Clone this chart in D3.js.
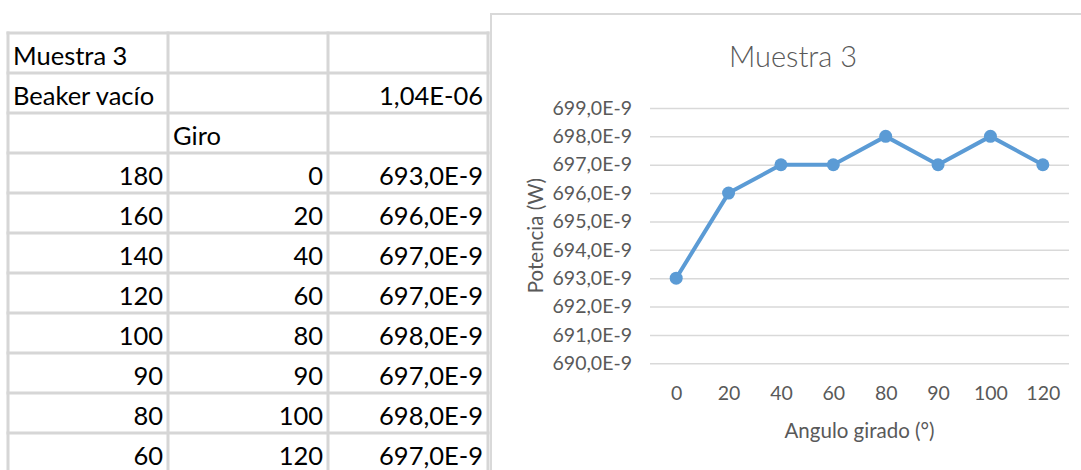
<!DOCTYPE html>
<html>
<head>
<meta charset="utf-8">
<script src="https://cdn.jsdelivr.net/npm/d3@7/dist/d3.min.js"></script>
<style>
  html, body { margin: 0; padding: 0; background: #fff; }
  svg { display: block; }
  text { font-family: Lato, "Open Sans", "Noto Sans", sans-serif; }
</style>
</head>
<body>
<svg id="sheet" width="1081" height="470"></svg>
<script>
// Sheet data: sample 3, power measured as the polarizer is rotated
const titulo = "Muestra 3";
const beakerLabel = "Beaker vacío";
const beakerVacio = 1.04e-6;
const giroHeader = "Giro";
const anguloPolarizador = [180, 160, 140, 120, 100, 90, 80, 60];
const giro = [0, 20, 40, 60, 80, 90, 100, 120];
const potencia = [693.0e-9, 696.0e-9, 697.0e-9, 697.0e-9, 698.0e-9, 697.0e-9, 698.0e-9, 697.0e-9];
const yTicks = [690e-9, 691e-9, 692e-9, 693e-9, 694e-9, 695e-9, 696e-9, 697e-9, 698e-9, 699e-9];
const xTitle = "Angulo girado (°)";
const yTitle = "Potencia (W)";

const svg = d3.select("#sheet");

// Number formats in the spreadsheet style (comma decimal separator)
const fmtNano = v => (Math.round(v * 1e10) / 10).toFixed(1).replace(".", ",") + "E-9";
const fmtSci = v => {
  const e = Math.floor(Math.log10(v));
  const m = (v / Math.pow(10, e)).toFixed(2).replace(".", ",");
  const sign = e < 0 ? "-" : "+";
  return m + "E" + sign + String(Math.abs(e)).padStart(2, "0");
};

// ---------- Spreadsheet grid ----------
const colX = [8, 168, 328, 488];
const rowTop = 33, rowH = 40;
const rows = [
  [{ t: titulo, a: "start" }, null, null],
  [{ t: beakerLabel, a: "start" }, null, { t: fmtSci(beakerVacio), a: "end" }],
  [null, { t: giroHeader, a: "start" }, null]
];
anguloPolarizador.forEach((ang, i) => {
  rows.push([
    { t: String(ang), a: "end" },
    { t: String(giro[i]), a: "end" },
    { t: fmtNano(potencia[i]), a: "end" }
  ]);
});

const table = svg.append("g").attr("class", "table");
const gridColor = "#d6d6d6";
const nRows = rows.length;
// horizontal lines
for (let r = 0; r <= nRows; r++) {
  table.append("line")
    .attr("x1", colX[0] - 1.5).attr("x2", colX[3] + 1.5)
    .attr("y1", rowTop + r * rowH).attr("y2", rowTop + r * rowH)
    .attr("stroke", gridColor).attr("stroke-width", 3);
}
// vertical lines
colX.forEach(x => {
  table.append("line")
    .attr("x1", x).attr("x2", x)
    .attr("y1", rowTop - 1.5).attr("y2", 470)
    .attr("stroke", gridColor).attr("stroke-width", 3);
});
// cell text
rows.forEach((row, r) => {
  row.forEach((cell, c) => {
    if (!cell) return;
    const x = cell.a === "start" ? colX[c] + 5 : colX[c + 1] - 5;
    table.append("text")
      .attr("x", x)
      .attr("y", rowTop + (r + 1) * rowH - 8.5)
      .attr("text-anchor", cell.a)
      .attr("font-size", 25.5)
      .attr("fill", "#000")
      .text(cell.t);
  });
});

// ---------- Chart object ----------
const chart = svg.append("g").attr("class", "chart");
chart.append("rect")
  .attr("x", 491).attr("y", 14)
  .attr("width", 700).attr("height", 600)
  .attr("fill", "#fff")
  .attr("stroke", "#d9d9d9").attr("stroke-width", 2);

const plot = { left: 650, right: 1069, top: 108, bottom: 363.3 };
const labelColor = "#595959";
const chartFont = 19.5;

const x = d3.scalePoint()
  .domain(giro.map(String))
  .range([plot.left, plot.right])
  .padding(0.5);

const y = d3.scaleLinear()
  .domain([690e-9, 699e-9])
  .range([plot.bottom, plot.top]);

// horizontal gridlines + y labels
const yAxis = d3.axisLeft(y)
  .tickValues(yTicks)
  .tickFormat(fmtNano)
  .tickSize(-(plot.right - plot.left))
  .tickPadding(18);

const yg = chart.append("g")
  .attr("transform", `translate(${plot.left},0)`)
  .call(yAxis);
yg.select(".domain").remove();
yg.selectAll(".tick line").attr("stroke", "#d9d9d9").attr("stroke-width", 1.5);
yg.selectAll(".tick text")
  .attr("fill", labelColor)
  .attr("font-size", chartFont)
  .attr("font-family", "Lato, 'Open Sans', sans-serif");

// x category labels
const xAxis = d3.axisBottom(x).tickSize(0).tickPadding(0);
const xg = chart.append("g")
  .attr("transform", `translate(0,${plot.bottom})`)
  .call(xAxis);
xg.select(".domain").remove();
xg.selectAll(".tick text")
  .attr("fill", labelColor)
  .attr("font-size", chartFont)
  .attr("font-family", "Lato, 'Open Sans', sans-serif")
  .attr("dy", null)
  .attr("y", 37);

// title
chart.append("text")
  .attr("x", 793).attr("y", 67)
  .attr("text-anchor", "middle")
  .attr("font-size", 29)
  .attr("font-weight", 300)
  .attr("fill", labelColor)
  .text(titulo);

// axis titles
chart.append("text")
  .attr("x", (plot.left + plot.right) / 2).attr("y", 438)
  .attr("text-anchor", "middle")
  .attr("font-size", 20.5)
  .attr("fill", labelColor)
  .text(xTitle);

chart.append("text")
  .attr("transform", `translate(543,${(plot.top + plot.bottom) / 2}) rotate(-90)`)
  .attr("text-anchor", "middle")
  .attr("font-size", 20.5)
  .attr("fill", labelColor)
  .text(yTitle);

// series
const serie = giro.map((g, i) => ({ g: String(g), v: potencia[i] }));
const blue = "#5b9bd5";
chart.append("path")
  .datum(serie)
  .attr("fill", "none")
  .attr("stroke", blue)
  .attr("stroke-width", 4)
  .attr("stroke-linejoin", "round")
  .attr("d", d3.line().x(d => x(d.g)).y(d => y(d.v)));

chart.selectAll("circle.pt")
  .data(serie)
  .join("circle")
  .attr("class", "pt")
  .attr("cx", d => x(d.g))
  .attr("cy", d => y(d.v))
  .attr("r", 6.5)
  .attr("fill", blue);
</script>
</body>
</html>
